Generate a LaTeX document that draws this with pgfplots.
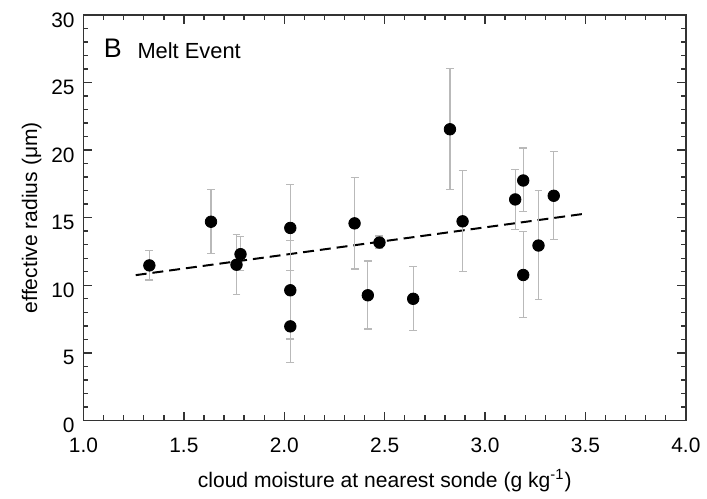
\documentclass[border=0pt]{standalone}
\usepackage{fontspec}
\setmainfont{Liberation Sans}
\usepackage{pgfplots}
\pgfplotsset{compat=1.18}
\usepackage{pgfplotstable}

\pgfplotstableread{
x     y      ep    em
1.328 11.47  1.10  1.08
1.635 14.70  2.36  2.37
1.762 11.52  2.23  2.18
1.782 12.30  1.28  1.20
2.030 14.24  3.19  3.14
2.030  9.63  3.67  3.60
2.030  6.96  2.65  2.65
2.350 14.58  3.42  3.38
2.416  9.26  2.53  2.50
2.474 13.16  0.49  0.44
2.642  9.00  2.37  2.36
2.825 21.54  4.49  4.46
2.888 14.73  3.75  3.70
3.150 16.35  2.23  2.21
3.190 17.75  2.40  2.28
3.190 10.76  3.21  3.16
3.266 12.94  4.05  3.97
3.342 16.62  3.28  3.22
}\meltdata

\begin{document}
\begin{tikzpicture}
\begin{axis}[
  scale only axis,
  width=303pt, height=204pt,
  xmin=1, xmax=4, ymin=0, ymax=30,
  xtick={1,1.5,...,4}, ytick={0,5,...,30},
  minor x tick num=4, minor y tick num=4,
  tick align=inside,
  major tick length=4.5pt, minor tick length=2.5pt,
  axis line style={line width=0.8pt, black!80},
  every tick/.style={line width=0.7pt, black!80},
  xticklabel style={/pgf/number format/fixed, /pgf/number format/fixed zerofill, /pgf/number format/precision=1, font=\fontsize{10.5}{12}\selectfont, yshift=-5.5pt},
  yticklabel style={font=\fontsize{10.5}{12}\selectfont, yshift=-2.5pt, xshift=-1pt},
  /pgf/number format/assume math mode=true,
  xlabel={cloud moisture at nearest sonde (g kg\textsuperscript{-1})},
  ylabel={effective radius (μm)},
  label style={font=\fontsize{10.6}{12}\selectfont},
  xlabel style={yshift=-1.5pt},
  ylabel style={yshift=-2pt},
  clip=false,
]
\addplot[black, dashed, line width=1pt, dash pattern=on 5.5pt off 3pt] coordinates {(1.26,10.75) (3.5,15.3)};
\addplot[only marks, mark=*, mark size=2.9pt, black,
  error bars/.cd, y dir=both, y explicit,
  error bar style={gray!55, line width=0.6pt},
  error mark options={gray!55, line width=0.6pt, rotate=90, mark size=2pt}]
  table[x=x, y=y, y error plus=ep, y error minus=em] {\meltdata};
\node[anchor=base west, inner sep=0pt, font=\fontsize{13.5}{15}\selectfont] at (axis cs:1.10,26.85) {B};
\node[anchor=base west, inner sep=0pt, font=\fontsize{11}{13}\selectfont] at (axis cs:1.267,26.78) {Melt Event};
\end{axis}
\path[use as bounding box] ([shift={(-42pt,-33pt)}]current axis.south west) rectangle ([shift={(8.5pt,7.5pt)}]current axis.north east);
\end{tikzpicture}
\end{document}
